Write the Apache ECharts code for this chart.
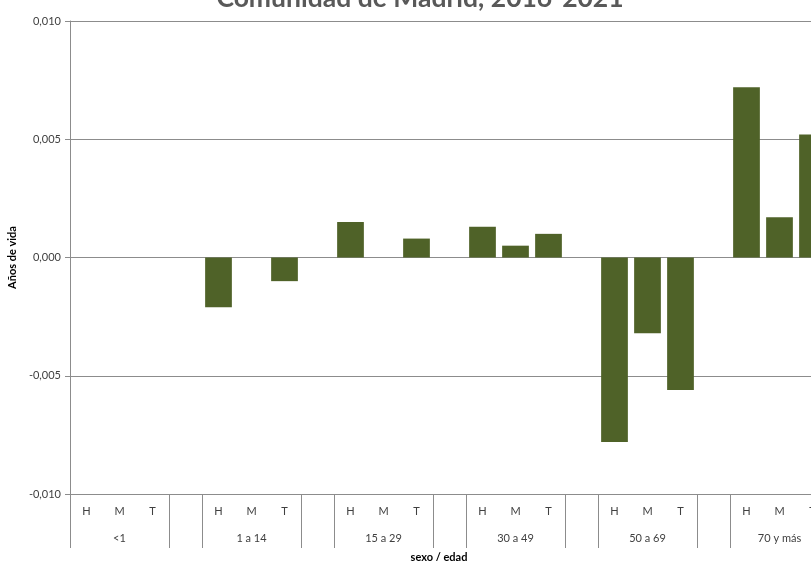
<!DOCTYPE html>
<html>
<head>
<meta charset="utf-8">
<script src="https://cdn.jsdelivr.net/npm/echarts@6/dist/echarts.min.js"></script>
<style>
html,body{margin:0;padding:0;background:#fff;}
#chart{width:811px;height:563px;}
</style>
</head>
<body>
<div id="chart"></div>
<script>
// ---- data ----
var titleText = 'Comunidad de Madrid, 2016-2021';
var groups = ['<1', '1 a 14', '15 a 29', '30 a 49', '50 a 69', '70 y más'];
var sexLabels = ['H', 'M', 'T'];
var hValues = [0, -0.0021, 0.0015, 0.0013, -0.0078, 0.0072];
var mValues = [0, 0, 0, 0.0005, -0.0032, 0.0017];
var tValues = [0, -0.0010, 0.0008, 0.0010, -0.0056, 0.0052];
var yMin = -0.010, yMax = 0.010, yStep = 0.005;

// ---- build categories ----
var cats = [], groupCats = [], values = [];
for (var g = 0; g < groups.length; g++) {
  var vals = [hValues[g], mValues[g], tValues[g]];
  for (var s = 0; s < 3; s++) {
    cats.push(sexLabels[s]);
    groupCats.push(s === 1 ? groups[g] : '');
    values.push(vals[s]);
  }
  if (g < groups.length - 1) {
    cats.push('');
    groupCats.push('');
    values.push(null);
  }
}

var FONT = 'Lato, "Liberation Sans", sans-serif';
var chart = echarts.init(document.getElementById('chart'), null, {renderer: 'canvas'});
chart.setOption({
  animation: false,
  backgroundColor: '#ffffff',
  grid: {left: 70, top: 21, right: -18, bottom: 69, containLabel: false, outerBoundsMode: 'none'},
  graphic: [
    {type: 'text', x: 420, y: -2, style: {text: titleText, align: 'center', verticalAlign: 'middle',
      font: 'bold 26.5px ' + FONT, fill: '#595959'}},
    {type: 'text', x: 439, y: 557, style: {text: 'sexo / edad', align: 'center', verticalAlign: 'middle',
      font: 'bold 11px ' + FONT, fill: '#000000'}}
  ],
  xAxis: [
    {
      type: 'category', data: cats, position: 'bottom',
      axisLine: {show: true, onZero: false, lineStyle: {color: '#8c8c8c', width: 1}},
      axisTick: {show: true, length: 54, inside: false,
        interval: function (i) { return i % 4 === 0 || i % 4 === 3; },
        lineStyle: {color: '#8c8c8c', width: 1}},
      axisLabel: {interval: 0, margin: 12, fontSize: 11, fontFamily: FONT, color: '#404040'},
      splitLine: {show: false}
    },
    {
      type: 'category', data: groupCats, position: 'bottom',
      axisLine: {show: false, onZero: false}, axisTick: {show: false},
      axisLabel: {interval: 0, margin: 39, fontSize: 11, fontFamily: FONT, color: '#404040'},
      splitLine: {show: false}
    }
  ],
  yAxis: {
    type: 'value', min: yMin, max: yMax, interval: yStep,
    name: 'Años de vida', nameLocation: 'middle', nameRotate: 90, nameGap: 50,
    nameTextStyle: {fontWeight: 'bold', fontSize: 11, fontFamily: FONT, color: '#000'},
    axisLine: {show: true, lineStyle: {color: '#8c8c8c', width: 1}},
    axisTick: {show: true, length: 5, inside: false, lineStyle: {color: '#8c8c8c'}},
    splitLine: {show: true, lineStyle: {color: '#8c8c8c', width: 1}},
    axisLabel: {margin: 9, fontSize: 11, fontFamily: FONT, color: '#404040',
      formatter: function (v) {
        if (Math.abs(v) < 1e-9) v = 0;
        return v.toFixed(3).replace('.', ',');
      }}
  },
  series: [{
    type: 'bar', xAxisIndex: 0, data: values,
    barCategoryGap: '19%',
    itemStyle: {color: '#4F6228'}
  }]
});
</script>
</body>
</html>
